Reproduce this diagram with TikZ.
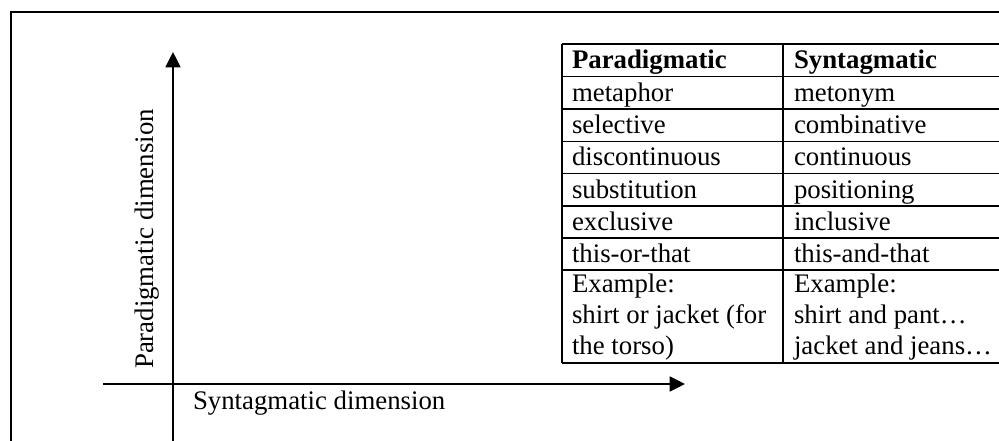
\documentclass[tikz,border=0pt]{standalone}
\usepackage{fontspec}
\setmainfont{Liberation Serif}
\usetikzlibrary{arrows.meta}
\begin{document}
\begin{tikzpicture}[x=0.75pt,y=-0.75pt,
  font=\fontsize{20.1pt}{23.7pt}\selectfont,
  frameline/.style={line width=1.5pt},
  axisline/.style={line width=1.3pt,-{Triangle[length=11.5pt,width=11.25pt]}},
  tabline/.style={line width=1.1pt},
  cell/.style={anchor=base west,inner sep=0pt,outer sep=0pt},
  hcell/.style={cell,font=\fontsize{20.1pt}{23.7pt}\selectfont\bfseries}]
\useasboundingbox (0,0) rectangle (999,441);
\clip (0,0) rectangle (999,441);
% outer frame (only top and left edges visible)
\coordinate (fbl) at (10.5,460);
\coordinate (ftl) at (10.5,12);
\coordinate (ftr) at (1020,12);
\draw[frameline] (fbl) -- (ftl) -- (ftr);
% axes
\coordinate (vbot) at (173,460);
\coordinate (vtop) at (173,52);
\draw[axisline] (vbot) -- (vtop);
\coordinate (hleft) at (103,384);
\coordinate (hright) at (685,384);
\draw[axisline] (hleft) -- (hright);
% axis labels
\node[anchor=base,rotate=90,inner sep=0pt] (plabel) at (153,239) {Paradigmatic dimension};
\node[cell] (slabel) at (193,409) {Syntagmatic dimension};
% table grid
\foreach \yy in {44,76.5,109,141.3,173.6,206,238,270,363}
  \draw[tabline] (562,\yy) -- (1020,\yy);
\draw[tabline] (562,44) -- (562,363);
\draw[tabline] (783,44) -- (783,363);
% header
\node[hcell] (h1) at (572,69) {Paradigmatic};
\node[hcell] (h2) at (794,69) {Syntagmatic};
% rows
\node[cell] (p1) at (572,101.5) {metaphor};
\node[cell] (s1) at (794,101.5) {metonym};
\node[cell] (p2) at (572,134) {selective};
\node[cell] (s2) at (794,134) {combinative};
\node[cell] (p3) at (572,166) {discontinuous};
\node[cell] (s3) at (794,166) {continuous};
\node[cell] (p4) at (572,198.5) {substitution};
\node[cell] (s4) at (794,198.5) {positioning};
\node[cell] (p5) at (572,230.5) {exclusive};
\node[cell] (s5) at (794,230.5) {inclusive};
\node[cell] (p6) at (572,262.5) {this-or-that};
\node[cell] (s6) at (794,262.5) {this-and-that};
\node[cell] (p7a) at (572,293) {Example:};
\node[cell] (p7b) at (572,324) {shirt or jacket (for};
\node[cell] (p7c) at (572,355) {the torso)};
\node[cell] (s7a) at (794,293) {Example:};
\node[cell] (s7b) at (794,324) {shirt and pant…};
\node[cell] (s7c) at (794,355) {jacket and jeans…};
\end{tikzpicture}
\end{document}
